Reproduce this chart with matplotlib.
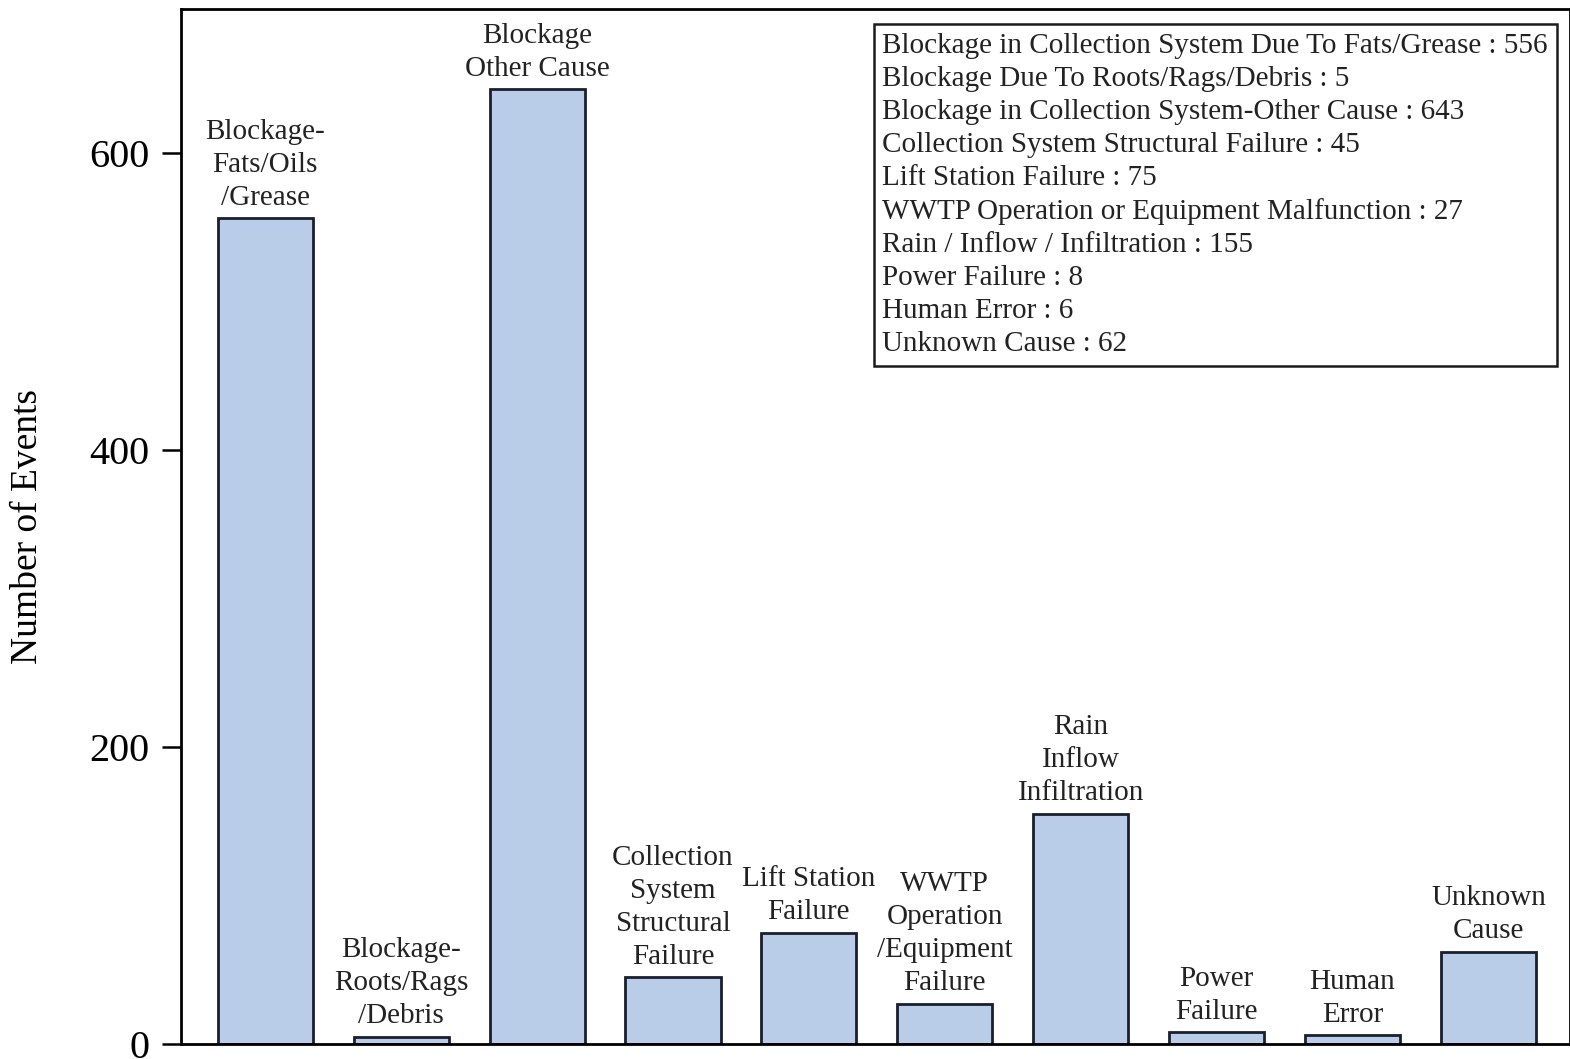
import numpy as np
import matplotlib.pyplot as plt

plt.rcParams['font.family'] = ['Liberation Serif', 'DejaVu Serif']

# Event counts per cause
bar_labels = ['Blockage-\nFats/Oils\n/Grease', 'Blockage-\nRoots/Rags\n/Debris',
              'Blockage\nOther Cause', 'Collection\nSystem\nStructural\nFailure',
              'Lift Station\nFailure', 'WWTP\nOperation\n/Equipment\nFailure',
              'Rain\nInflow\nInfiltration', 'Power\nFailure', 'Human\nError',
              'Unknown\nCause']
legend_names = ['Blockage in Collection System Due To Fats/Grease',
                'Blockage Due To Roots/Rags/Debris',
                'Blockage in Collection System-Other Cause',
                'Collection System Structural Failure',
                'Lift Station Failure',
                'WWTP Operation or Equipment Malfunction',
                'Rain / Inflow / Infiltration',
                'Power Failure',
                'Human Error',
                'Unknown Cause']
counts = [556, 5, 643, 45, 75, 27, 155, 8, 6, 62]
y_ticks = [0, 200, 400, 600]

fig = plt.figure(figsize=(15.7, 10.59), dpi=100)
ax = fig.add_axes([0.1153, 0.0142, 0.8847, 0.9773])

x = np.arange(len(counts))
ax.bar(x, counts, width=0.7, color='#b9cde9', edgecolor='#1a1f2e', linewidth=2)

for xi, c, lab in zip(x, counts, bar_labels):
    ax.text(xi, c + 5, lab, ha='center', va='bottom', fontsize=21,
            linespacing=1.35, color='#222222')

legend_text = '\n'.join(f'{n} : {c}' for n, c in zip(legend_names, counts))
ax.text(0.505, 0.977, legend_text, transform=ax.transAxes, ha='left', va='top',
        fontsize=21, linespacing=1.35, color='#222222',
        bbox=dict(boxstyle='square,pad=0.3', facecolor='white',
                  edgecolor='#1a1a1a', linewidth=1.8))

ax.set_xlim(-0.62, 9.6)
ax.set_ylim(0, 697)
ax.set_yticks(y_ticks)
ax.set_xticks([])
ax.tick_params(axis='y', labelsize=29, length=14, width=1.8, pad=9)
ax.set_ylabel('Number of Events', fontsize=27)
ax.yaxis.set_label_coords(-0.098, 0.5)
for side in ['left', 'top', 'bottom', 'right']:
    ax.spines[side].set_linewidth(2)

fig.savefig('out.png', dpi=100)
